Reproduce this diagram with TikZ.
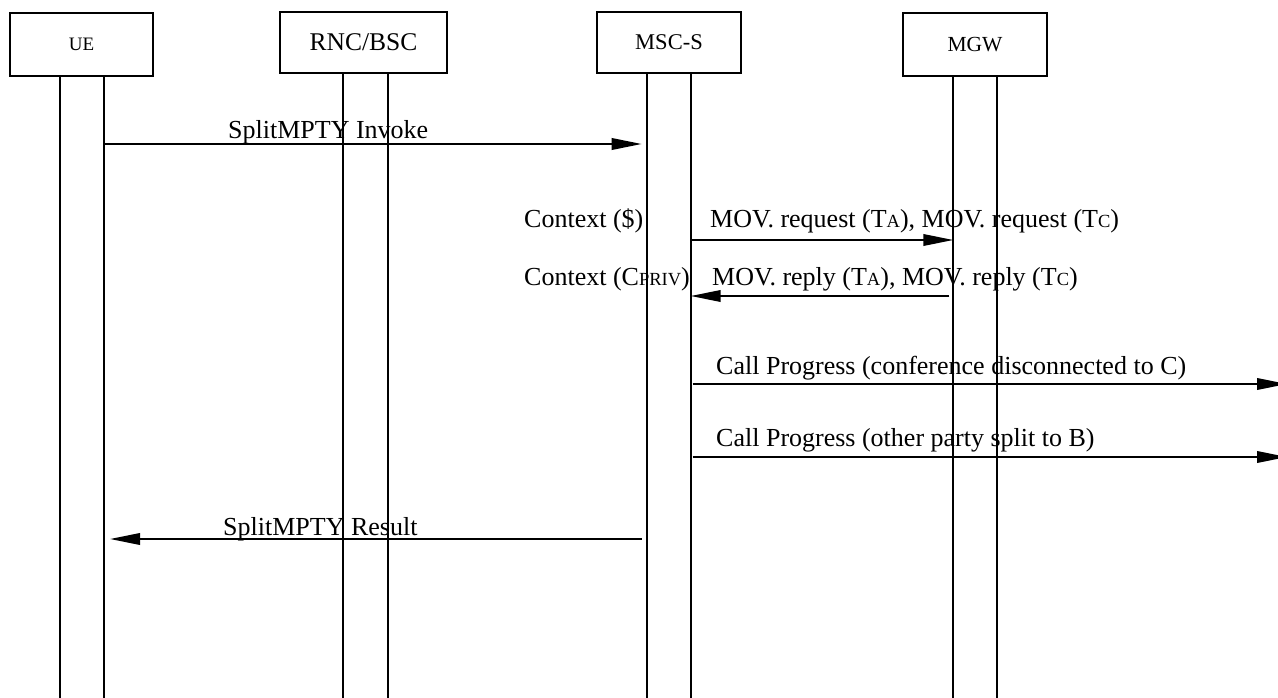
\documentclass[tikz,border=0pt]{standalone}
\usepackage{fontspec}
\setmainfont{Liberation Serif}
\usetikzlibrary{arrows.meta,calc}
\newcommand{\smtxt}[1]{{\fontsize{18.5}{18.5}\selectfont #1}}
\begin{document}
\begin{tikzpicture}[x=1pt,y=-1pt,
  box/.style={draw,line width=1.8pt,inner sep=0pt},
  lifeline/.style={line width=1.8pt},
  msg/.style={line width=2pt,-{Triangle[length=30pt,width=11.5pt]}},
  lbl/.style={anchor=base west,inner sep=0pt,font=\fontsize{26}{26}\selectfont}]
\useasboundingbox (0,0) rectangle (1278,698);
\clip (0,0) rectangle (1278,698);

% entity boxes
\node[box,minimum width=143pt,minimum height=63pt,font=\fontsize{19}{19}\selectfont] (ue) at (81.5,44.5) {UE};
\node[box,minimum width=167pt,minimum height=61pt,font=\fontsize{25.5}{25.5}\selectfont] (rnc) at (363.5,42.5) {RNC/BSC};
\node[box,minimum width=144pt,minimum height=61pt,font=\fontsize{22.5}{22.5}\selectfont] (msc) at (669,42.5) {MSC-S};
\node[box,minimum width=144pt,minimum height=63pt,font=\fontsize{21.5}{21.5}\selectfont] (mgw) at (975,44.5) {MGW};

% lifeline bottoms
\coordinate (ueL) at (60,698);
\coordinate (ueR) at (104,698);
\coordinate (rncL) at (343,698);
\coordinate (rncR) at (388,698);
\coordinate (mscL) at (646.7,698);
\coordinate (mscR) at (690.7,698);
\coordinate (mgwL) at (953.3,698);
\coordinate (mgwR) at (997.3,698);

\foreach \b/\l in {ue/ueL,ue/ueR,rnc/rncL,rnc/rncR,msc/mscL,msc/mscR,mgw/mgwL,mgw/mgwR}
  \draw[lifeline] (\l |- \b.south) -- (\l);

% message rows
\coordinate (r1) at (0,144);
\coordinate (r2) at (0,240);
\coordinate (r3) at (0,296);
\coordinate (r4) at (0,384);
\coordinate (r5) at (0,457);
\coordinate (r6) at (0,539);
\coordinate (e4) at (1287,384);
\coordinate (e5) at (1287,457);

% labels
\node[lbl] (l1) at (228,139) {SplitMPTY Invoke};
\node[lbl] (c1) at (524,227) {Context (\$)};
\node[lbl] (l2) at (710,227) {MOV. request (T\smtxt{A}), MOV. request (T\smtxt{C})};
\node[lbl] (c2) at (524,285) {Context (C\smtxt{PRIV})};
\node[lbl] (l3) at (712,285) {MOV. reply (T\smtxt{A}), MOV. reply (T\smtxt{C})};
\node[lbl] (l4) at (716,374) {Call Progress (conference disconnected to C)};
\node[lbl] (l5) at (716,446) {Call Progress (other party split to B)};
\node[lbl] (l6) at (223,535) {SplitMPTY Result};

% arrows
\draw[msg] (ueR |- r1) -- ($(mscL |- r1)+(-5,0)$);
\draw[msg] (mscR |- r2) -- (mgwL |- r2);
\draw[msg] ($(mgwL |- r3)+(-4,0)$) -- (mscR |- r3);
\draw[msg] ($(mscR |- r4)+(2,0)$) -- (e4);
\draw[msg] ($(mscR |- r5)+(2,0)$) -- (e5);
\draw[msg] ($(mscL |- r6)+(-5,0)$) -- ($(ueR |- r6)+(6,0)$);
\end{tikzpicture}
\end{document}
